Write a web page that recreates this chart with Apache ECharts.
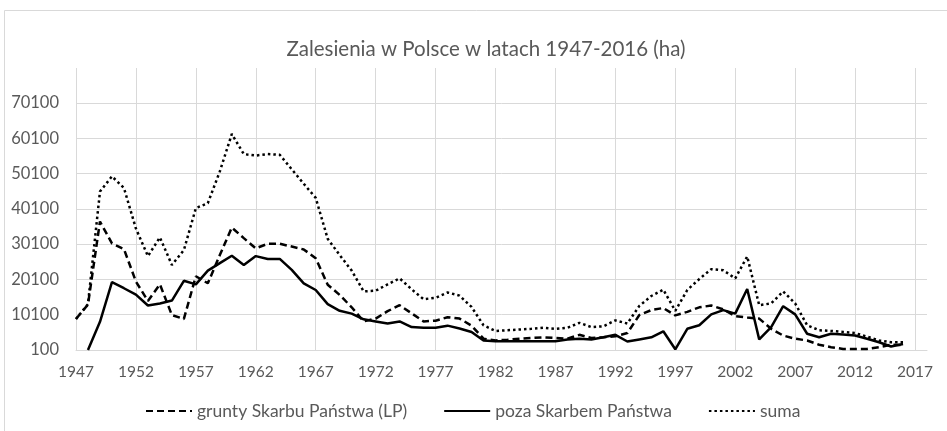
<!DOCTYPE html>
<html>
<head>
<meta charset="utf-8">
<script src="https://cdn.jsdelivr.net/npm/echarts@6/dist/echarts.min.js"></script>
<style>
  html, body { margin: 0; padding: 0; background: #fff; }
  #chart { width: 947px; height: 431px; }
</style>
</head>
<body>
<div id="chart"></div>
<script>
// lata na osi (2018 tylko jako zapas po prawej, bez danych)
const years = [];
for (let y = 1947; y <= 2018; y++) years.push(String(y));

// grunty Skarbu Państwa (LP), 1947-2016
const lasyPanstwowe = [
  8900, 13000, 36500, 30300, 28700, 19500, 14000, 18700, 10000, 8900,
  21000, 19000, 27000, 34800, 31800, 28900, 30200, 30200, 29400, 28600,
  26100, 18600, 15700, 12200, 8200, 9000, 11100, 12800, 10500, 8200,
  8400, 9400, 9000, 7000, 3300, 2800, 3000, 3300, 3500, 3700,
  3500, 3300, 4400, 3500, 3700, 4000, 4900, 10000, 11400, 12000,
  9900, 10900, 12200, 12700, 11600, 9700, 9300, 9000, 6100, 4200,
  3300, 2800, 1600, 900, 400, 400, 400, 900, 1600, 1500
];

// poza Skarbem Państwa (1947 - brak linii na wykresie)
const pozaSP = [
  null, 100, 8100, 19300, 17600, 15800, 12700, 13300, 14100, 19700,
  18700, 22600, 24700, 26800, 24200, 26700, 25900, 25900, 22800, 19000,
  17100, 13100, 11200, 10400, 8800, 8200, 7600, 8200, 6600, 6400,
  6400, 7000, 6200, 5200, 2800, 2600, 2600, 2600, 2600, 2600,
  2600, 3100, 3300, 3100, 3700, 4400, 2500, 3100, 3700, 5400,
  300, 6100, 7100, 10200, 11400, 10400, 17400, 3100, 6600, 12500,
  10200, 4700, 3700, 4700, 4500, 4200, 3300, 2300, 1100, 1800
];

// suma
const suma = [
  8900, 13100, 45000, 49300, 46000, 34500, 26700, 32000, 24200, 28400,
  40300, 41700, 50700, 61300, 55600, 55200, 55600, 55400, 51300, 47200,
  43200, 31600, 27000, 22600, 16700, 16900, 18700, 20400, 17300, 14500,
  14900, 16400, 15500, 12300, 7100, 5500, 5700, 5900, 6100, 6400,
  6100, 6400, 7800, 6600, 6800, 8500, 7600, 12600, 15400, 17200,
  11200, 17100, 20200, 23000, 22700, 20400, 26600, 12800, 13300, 16700,
  13300, 7100, 5700, 5500, 5200, 4900, 3900, 2800, 2300, 2300
];

const seriesNames = ['grunty Skarbu Państwa (LP)', 'poza Skarbem Państwa', 'suma'];

const font = 'Lato';
const grey = '#595959';
const gridGrey = '#d9d9d9';

const chart = echarts.init(document.getElementById('chart'));

chart.setOption({
  animation: false,
  backgroundColor: '#fff',
  title: {
    text: 'Zalesienia w Polsce w latach 1947-2016 (ha)',
    left: 481,
    top: 34,
    textAlign: 'center',
    textStyle: { fontFamily: font, fontSize: 20.5, fontWeight: 'normal', color: grey }
  },
  legend: {
    data: seriesNames,
    left: 140,
    top: 397,
    itemWidth: 46,
    itemHeight: 14,
    itemGap: 36,
    itemStyle: { opacity: 0 },
    textStyle: { fontFamily: font, fontSize: 17.5, color: grey }
  },
  graphic: [{
    type: 'rect',
    silent: true,
    shape: { x: 4.5, y: 10.5, width: 980, height: 460 },
    style: { fill: 'none', stroke: gridGrey, lineWidth: 1 }
  }],
  // obszar wykresu siega powyzej ostatniej linii 70100
  grid: { left: 76, right: 20, top: 68, bottom: 81 },
  xAxis: {
    type: 'category',
    data: years,
    boundaryGap: false,
    axisLine: { lineStyle: { color: gridGrey } },
    axisTick: { show: false },
    axisLabel: { interval: 4, color: grey, fontFamily: font, fontSize: 15.5, margin: 14 },
    splitLine: { show: true, interval: 4, lineStyle: { color: gridGrey, width: 1 } }
  },
  yAxis: {
    type: 'value',
    min: 100,
    max: 80000,
    interval: 10000,
    axisLine: { show: false },
    axisTick: { show: false },
    axisLabel: {
      color: grey, fontFamily: font, fontSize: 16.5, margin: 17,
      showMaxLabel: false,
      formatter: v => (v > 70100 ? '' : String(v))
    },
    splitLine: { showMaxLine: false, lineStyle: { color: gridGrey, width: 1 } }
  },
  series: [
    {
      name: seriesNames[0],
      type: 'line',
      data: lasyPanstwowe,
      symbol: 'none',
      lineStyle: { color: '#000', width: 2.5, type: [7, 4] },
      itemStyle: { color: '#000' }
    },
    {
      name: seriesNames[1],
      type: 'line',
      data: pozaSP,
      symbol: 'none',
      lineStyle: { color: '#000', width: 2.5, type: 'solid' },
      itemStyle: { color: '#000' }
    },
    {
      name: seriesNames[2],
      type: 'line',
      data: suma,
      symbol: 'none',
      lineStyle: { color: '#000', width: 2.5, type: [2.5, 3] },
      itemStyle: { color: '#000' }
    }
  ]
});
</script>
</body>
</html>
